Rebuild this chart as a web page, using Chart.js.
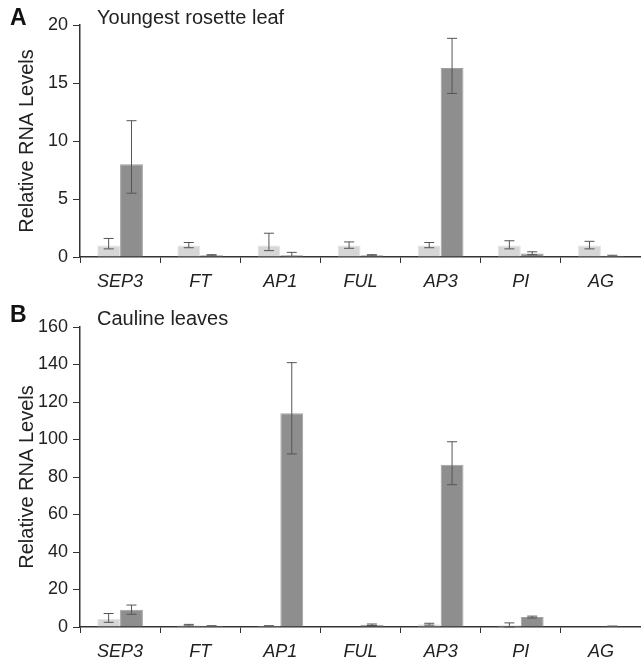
<!DOCTYPE html>
<html>
<head>
<meta charset="utf-8">
<script src="https://cdn.jsdelivr.net/npm/chart.js@4.4.0/dist/chart.umd.min.js"></script>
<style>
  body { margin: 0; background: #fff; font-family: "Liberation Sans", Arial, sans-serif; }
  #wrap { position: relative; width: 641px; height: 658px; overflow: hidden; }
  .panel { position: absolute; left: 0; }
  .letter { position: absolute; left: 10px; font-weight: bold; font-size: 23px; color: #111; }
  .title { position: absolute; left: 97px; font-size: 20px; color: #222; }
</style>
</head>
<body>
<div id="wrap">
  <div class="panel" style="top:0"><canvas id="chart-a" width="641" height="300"></canvas></div>
  <div class="panel" style="top:300px"><canvas id="chart-b" width="641" height="358"></canvas></div>
  <div class="letter" style="top:4px">A</div>
  <div class="title" style="top:6px">Youngest rosette leaf</div>
  <div class="letter" style="top:301px">B</div>
  <div class="title" style="top:307px">Cauline leaves</div>
</div>
<script>
// data
const genes = ["SEP3", "FT", "AP1", "FUL", "AP3", "PI", "AG"];

const rosetteWT = [1.0, 1.0, 1.0, 1.0, 1.0, 1.0, 1.0];
const rosetteWTLow = [0.7, 0.8, 0.55, 0.75, 0.8, 0.7, 0.7];
const rosetteWTHigh = [1.6, 1.25, 2.05, 1.3, 1.25, 1.4, 1.35];
const rosetteMut = [8.0, 0.15, 0.15, 0.15, 16.3, 0.3, 0.1];
const rosetteMutLow = [5.5, 0.1, 0.05, 0.1, 14.1, 0.2, 0.05];
const rosetteMutHigh = [11.75, 0.2, 0.4, 0.2, 18.85, 0.45, 0.15];

const caulineWT = [4.3, 1.0, 0.5, 0, 1.5, 1.0, 0];
const caulineWTLow = [2.5, 0.6, 0.3, 0, 1.0, 0, 0];
const caulineWTHigh = [7.2, 1.4, 0.7, 0, 2.0, 2.2, 0];
const caulineMut = [9.2, 0.5, 114, 1.2, 86.6, 5.3, 0.4];
const caulineMutLow = [6.8, 0.3, 92.3, 0.8, 75.9, 4.8, 0.3];
const caulineMutHigh = [11.7, 0.7, 141, 1.6, 98.8, 5.8, 0.5];

const lightGray = "#d6d6d6",
  darkGray = "#8e8e8e",
  axisColor = "#333";

// draws error whiskers from errLow / errHigh on each dataset
const errorBars = {
  id: "errorBars",
  afterDatasetsDraw(chart) {
    const ctx = chart.ctx,
      yScale = chart.scales.y;
    chart.data.datasets.forEach((ds, i) => {
      const meta = chart.getDatasetMeta(i);
      meta.data.forEach((bar, j) => {
        const lo = ds.errLow[j],
          hi = ds.errHigh[j];
        if (hi - lo <= 0) return;
        const yLo = yScale.getPixelForValue(lo),
          yHi = yScale.getPixelForValue(hi),
          x = bar.x,
          cap = 5;
        ctx.save();
        ctx.strokeStyle = "#555";
        ctx.lineWidth = 1;
        ctx.beginPath();
        ctx.moveTo(x, yLo);
        ctx.lineTo(x, yHi);
        ctx.moveTo(x - cap, yHi);
        ctx.lineTo(x + cap, yHi);
        ctx.moveTo(x - cap, yLo);
        ctx.lineTo(x + cap, yLo);
        ctx.stroke();
        ctx.restore();
      });
    });
  },
};

const makeConfig = (wt, wtLow, wtHigh, mut, mutLow, mutHigh, yMax, step, padTop, xHeight) => ({
  type: "bar",
  data: {
    labels: genes,
    datasets: [
      {
        data: wt,
        errLow: wtLow,
        errHigh: wtHigh,
        backgroundColor: lightGray,
        borderColor: "#e4e4e4",
        borderWidth: 1,
      },
      {
        data: mut,
        errLow: mutLow,
        errHigh: mutHigh,
        backgroundColor: darkGray,
        borderColor: "#a0a0a0",
        borderWidth: 1,
      },
    ],
  },
  options: {
    responsive: false,
    animation: false,
    layout: { padding: { top: padTop, right: 0, left: 0, bottom: 0 } },
    plugins: { legend: { display: false }, tooltip: { enabled: false } },
    datasets: { bar: { categoryPercentage: 0.57, barPercentage: 1.0 } },
    scales: {
      x: {
        grid: {
          offset: true,
          drawOnChartArea: false,
          tickLength: 6,
          color: axisColor,
        },
        border: { color: axisColor, width: 1.5 },
        ticks: {
          color: "#222",
          padding: 8,
          font: { family: "Liberation Sans", size: 18, style: "italic" },
        },
        afterFit: (scale) => {
          scale.height = xHeight;
        },
      },
      y: {
        min: 0,
        max: yMax,
        ticks: {
          stepSize: step,
          color: "#222",
          padding: 5,
          font: { family: "Liberation Sans", size: 18 },
        },
        grid: { drawOnChartArea: false, tickLength: 7, color: axisColor },
        border: { color: axisColor, width: 1.5 },
        title: {
          display: true,
          text: "Relative RNA Levels",
          color: "#222",
          padding: { top: 15, bottom: 0 },
          font: { family: "Liberation Sans", size: 20 },
        },
        afterFit: (scale) => {
          scale.width = 80;
        },
      },
    },
  },
  plugins: [errorBars],
});

new Chart(
  document.getElementById("chart-a"),
  makeConfig(rosetteWT, rosetteWTLow, rosetteWTHigh, rosetteMut, rosetteMutLow, rosetteMutHigh, 20, 5, 25, 43)
);
new Chart(
  document.getElementById("chart-b"),
  makeConfig(caulineWT, caulineWTLow, caulineWTHigh, caulineMut, caulineMutLow, caulineMutHigh, 160, 20, 27, 31)
);
</script>
</body>
</html>
